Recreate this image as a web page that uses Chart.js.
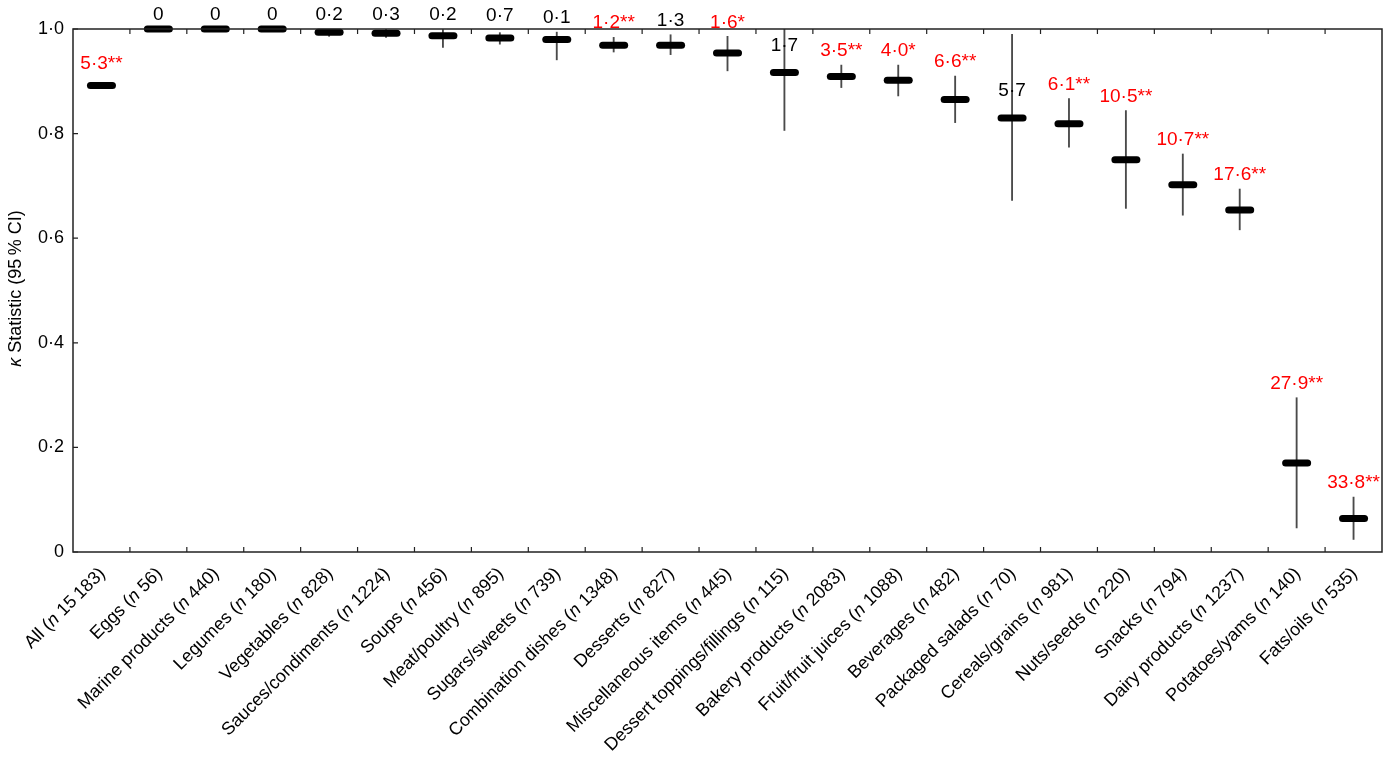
<!DOCTYPE html>
<html>
<head>
<meta charset="utf-8">
<script src="https://cdn.jsdelivr.net/npm/chart.js@4"></script>
<style>
html,body{margin:0;padding:0;background:#fff;overflow:hidden;width:1384px;height:762px;}
#wrap{width:1384px;height:762px;position:relative;overflow:hidden;}
canvas{display:block;}
</style>
</head>
<body>
<div id="wrap"><canvas id="c" width="1384" height="762" style="width:1384px;height:762px;"></canvas></div>
<script>
const categories = ['All','Eggs','Marine products','Legumes','Vegetables','Sauces/condiments','Soups','Meat/poultry','Sugars/sweets','Combination dishes','Desserts','Miscellaneous items','Dessert toppings/fillings','Bakery products','Fruit/fruit juices','Beverages','Packaged salads','Cereals/grains','Nuts/seeds','Snacks','Dairy products','Potatoes/yams','Fats/oils'];
const nValues = ['15\u2009183','56','440','180','828','1224','456','895','739','1348','827','445','115','2083','1088','482','70','981','220','794','1237','140','535'];
const kappa = [0.892,1.0,1.0,1.0,0.994,0.992,0.987,0.983,0.980,0.969,0.969,0.954,0.917,0.909,0.902,0.865,0.830,0.819,0.750,0.702,0.654,0.170,0.064];
const ciLow = [0.887,1.0,1.0,1.0,0.986,0.984,0.965,0.971,0.941,0.956,0.951,0.920,0.806,0.888,0.872,0.821,0.672,0.774,0.657,0.644,0.616,0.046,0.024];
const ciHigh = [0.897,1.0,1.0,1.0,1.0,1.0,0.999,0.993,0.994,0.984,0.989,0.986,1.0,0.931,0.931,0.910,0.990,0.867,0.844,0.761,0.694,0.295,0.105];
const pctLabels = ['5·3','0','0','0','0·2','0·3','0·2','0·7','0·1','1·2','1·3','1·6','1·7','3·5','4·0','6·6','5·7','6·1','10·5','10·7','17·6','27·9','33·8'];
const signif = ['**','','','','','','','','','**','','*','','**','*','**','','**','**','**','**','**','**'];
const yTicks = [0,0.2,0.4,0.6,0.8,1.0];

const FONT = '"Liberation Sans", Arial, Helvetica, sans-serif';

function fmt(v){ return v===0 ? '0' : v.toFixed(1).replace('.','·'); }

const roundCap = {
  id:'roundCap',
  beforeDatasetDraw(chart,args){ if(args.index===1){ chart.ctx.save(); chart.ctx.lineCap='round'; } },
  afterDatasetDraw(chart,args){ if(args.index===1){ chart.ctx.restore(); } }
};

const decor = {
  id:'decor',
  afterDraw(chart){
    const ctx = chart.ctx, a = chart.chartArea;
    const xs = chart.scales.x, ys = chart.scales.y;
    ctx.save();
    // frame
    ctx.strokeStyle = '#222'; ctx.lineWidth = 1.5;
    ctx.strokeRect(a.left, a.top, a.right - a.left, a.bottom - a.top);
    // inward ticks at category boundaries (bottom and top) and at y ticks (left)
    ctx.lineWidth = 1.2;
    ctx.beginPath();
    for(let i=1;i<categories.length;i++){
      const x = (xs.getPixelForValue(i-1) + xs.getPixelForValue(i))/2;
      ctx.moveTo(x, a.bottom); ctx.lineTo(x, a.bottom - 5);
      ctx.moveTo(x, a.top); ctx.lineTo(x, a.top + 5);
    }
    yTicks.forEach(v=>{
      const y = ys.getPixelForValue(v);
      ctx.moveTo(a.left, y); ctx.lineTo(a.left + 5, y);
    });
    ctx.stroke();

    // value labels above markers
    ctx.textBaseline = 'middle';
    ctx.textAlign = 'center';
    ctx.font = '19px ' + FONT;
    for(let i=0;i<categories.length;i++){
      const xc = xs.getPixelForValue(i);
      const pk = ys.getPixelForValue(kappa[i]);
      const ph = ys.getPixelForValue(ciHigh[i]);
      let y;
      if(ciHigh[i] > 0.98 && ciHigh[i] - kappa[i] > 0.05){ y = pk - 27; }
      else { y = Math.max(Math.min(ph - 14, pk - 22), 14.5); }
      ctx.fillStyle = signif[i] ? '#ff0000' : '#000';
      ctx.fillText(pctLabels[i] + signif[i], xc, y);
    }

    // category labels rotated 45 degrees, italic n
    ctx.fillStyle = '#000';
    ctx.textBaseline = 'middle';
    ctx.textAlign = 'left';
    for(let i=0;i<categories.length;i++){
      const xc = xs.getPixelForValue(i);
      const p1 = categories[i] + ' (';
      const p2 = 'n';
      const p3 = ' ' + nValues[i] + ')';
      ctx.font = '18px ' + FONT; const w1 = ctx.measureText(p1).width;
      ctx.font = 'italic 18px ' + FONT; const w2 = ctx.measureText(p2).width;
      ctx.font = '18px ' + FONT; const w3 = ctx.measureText(p3).width;
      const tot = w1 + w2 + w3;
      ctx.save();
      ctx.translate(xc + 1, a.bottom + 19);
      ctx.rotate(-Math.PI/4);
      let x0 = -tot;
      ctx.font = '18px ' + FONT; ctx.fillText(p1, x0, 0); x0 += w1;
      ctx.font = 'italic 18px ' + FONT; ctx.fillText(p2, x0, 0); x0 += w2;
      ctx.font = '18px ' + FONT; ctx.fillText(p3, x0, 0);
      ctx.restore();
    }

    // y axis title with italic kappa
    ctx.save();
    ctx.translate(16, (a.top + a.bottom)/2 - 2);
    ctx.rotate(-Math.PI/2);
    const t1 = 'κ', t2 = ' Statistic (95\u2009% CI)';
    ctx.font = 'italic 18px ' + FONT; const tw1 = ctx.measureText(t1).width;
    ctx.font = '18px ' + FONT; const tw2 = ctx.measureText(t2).width;
    let tx = -(tw1 + tw2)/2;
    ctx.textAlign = 'left';
    ctx.font = 'italic 18px ' + FONT; ctx.fillText(t1, tx, 0); tx += tw1;
    ctx.font = '18px ' + FONT; ctx.fillText(t2, tx, 0);
    ctx.restore();

    ctx.restore();
  }
};

new Chart(document.getElementById('c'), {
  type:'bar',
  data:{
    labels: categories,
    datasets:[
      {
        type:'bar',
        data: categories.map((_,i)=>[ciLow[i], ciHigh[i]]),
        backgroundColor:'#4a4a4a',
        borderWidth:0,
        barThickness:1.2,
        order:1
      },
      {
        type:'line',
        data: kappa,
        showLine:false,
        pointStyle:'line',
        pointRadius:11,
        pointBorderWidth:7,
        borderColor:'#000',
        backgroundColor:'#000',
        clip:false,
        order:0
      }
    ]
  },
  options:{
    responsive:false,
    devicePixelRatio:1,
    animation:false,
    events:[],
    layout:{autoPadding:false, padding:{top:29,right:2,left:0,bottom:0}},
    plugins:{legend:{display:false},tooltip:{enabled:false}},
    scales:{
      x:{
        type:'category',
        offset:true,
        grid:{display:false,drawTicks:false},
        border:{display:false},
        ticks:{display:false},
        afterFit(s){ s.height = 210; s.paddingLeft = 0; s.paddingRight = 0; }
      },
      y:{
        min:0,max:1,
        grid:{display:false,drawTicks:false},
        border:{display:false},
        afterBuildTicks(s){ s.ticks = yTicks.map(v=>({value:v})); },
        ticks:{
          color:'#000',
          font:{family:FONT,size:18},
          padding:9,
          callback:(v)=>fmt(v)
        },
        afterFit(s){ s.width = 73; s.paddingLeft = 0; s.paddingRight = 0; }
      }
    }
  },
  plugins:[roundCap, decor]
});
</script>
</body>
</html>
